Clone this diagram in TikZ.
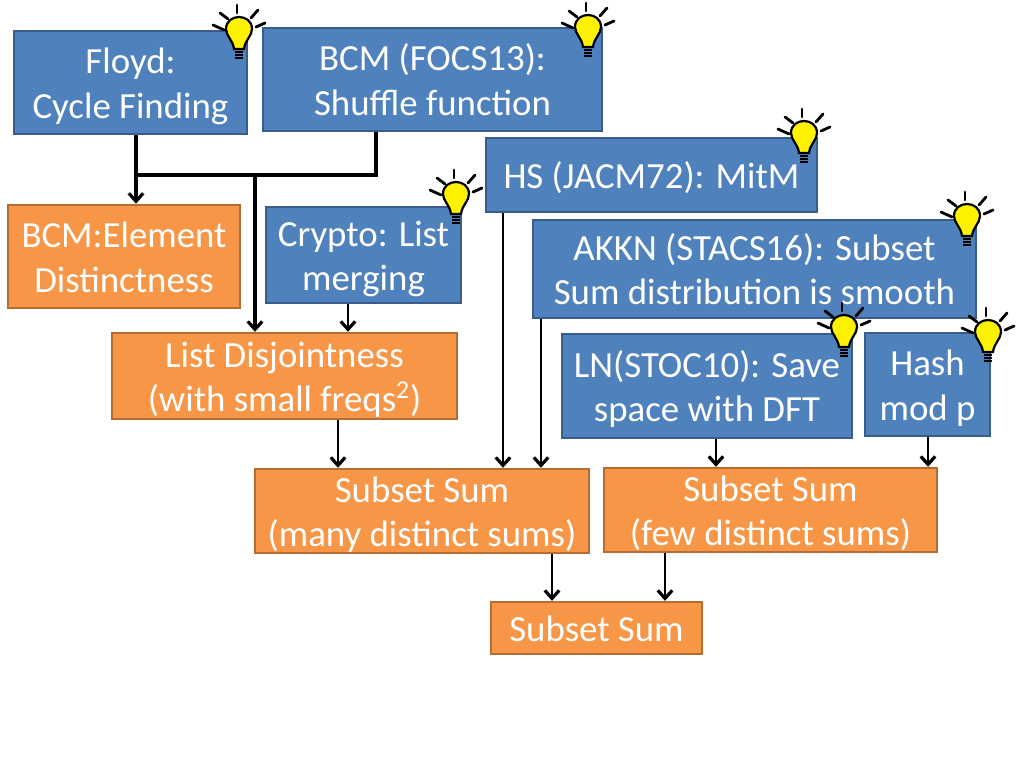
\documentclass[tikz,border=0pt]{standalone}
\usepackage{fontspec}
\setmainfont{Carlito}
\usetikzlibrary{arrows.meta}
\tikzset{
	bluebox/.style={
		draw = blueedge,
		fill = bluefill,
		line width = 0.06cm,
		text = white,
		align = center,
		inner sep = 0,
		text height = 53pt,
		text depth = 2.4pt
	},
	orangebox/.style={
		draw = orangeedge,
		fill = orangefill,
		line width = 0.06cm,
		text = white,
		align = center,
		inner sep = 0,
		text height = 53pt,
		text depth = 2.4pt
	},
	oneline/.style={
		text height = 26.5pt,
		text depth = 8pt
	},
	link/.style={
		line width = 0.07cm,
		-{Straight Barb[length=0.2cm,width=0.36cm,line width=0.08cm]}
	},
	bulb/.pic={
		\draw[line width=0.055cm, fill=yellow] (-5,19) .. controls (-6,10) and (-13,6) .. (-13,-1)
			.. controls (-13,-17) and (13,-17) .. (13,-1)
			.. controls (13,6) and (6,10) .. (5,19) -- cycle;
		\foreach \y in {22,25,28}
			\draw[line width=0.07cm] (-4,\y) -- (4,\y);
		\foreach \a/\b/\c/\d in {-2/-25/-2/-17, 19/-20/12/-12, 26/-7/17/-3, -19/-17/-11/-11, -26/-5/-15/0}
			\draw[line width=0.07cm, line cap=round] (\a,\b) -- (\c,\d);
	}
}
\definecolor{bluefill}{HTML}{4F81BD}
\definecolor{blueedge}{HTML}{385D8A}
\definecolor{orangefill}{HTML}{F79646}
\definecolor{orangeedge}{HTML}{B66D31}

\begin{document}
\begin{tikzpicture}[x=0.025cm, y=-0.025cm, font=\fontsize{26.2}{31.5}\selectfont]
    \useasboundingbox (0,0) rectangle (1024,768);
    % blue boxes
    \node[bluebox, minimum width=5.83cm, minimum height=2.58cm] (floyd) at (130.5,82.5) {Floyd:\\Cycle Finding};
    \node[bluebox, minimum width=8.48cm, minimum height=2.58cm] (bcm) at (432.5,79.5) {BCM (FOCS13):\\Shuffle function};
    \node[bluebox, oneline, minimum width=8.28cm, minimum height=1.85cm] (hs) at (651.5,175) {HS (JACM72): MitM};
    \node[bluebox, minimum width=4.88cm, minimum height=2.4cm] (crypto) at (363.5,255) {Crypto: List\\merging};
    \node[bluebox, minimum width=11.08cm, minimum height=2.45cm] (akkn) at (754.5,269) {AKKN (STACS16): Subset\\Sum distribution is smooth};
    \node[bluebox, minimum width=7.25cm, minimum height=2.6cm] (ln) at (707,386) {LN(STOC10): Save\\space with DFT};
    \node[bluebox, minimum width=3.13cm, minimum height=2.58cm] (hash) at (927.5,384.5) {Hash\\mod p};
    % orange boxes
    \node[orangebox, minimum width=5.8cm, minimum height=2.58cm] (element) at (124,256.5) {BCM:Element\\Distinctness};
    \node[orangebox, minimum width=8.63cm, minimum height=2.15cm] (listd) at (284.5,376) {List Disjointness\\(with small freqs\textsuperscript{2})};
    \node[orangebox, minimum width=8.35cm, minimum height=2.1cm] (many) at (422,511) {Subset Sum\\(many distinct sums)};
    \node[orangebox, minimum width=8.33cm, minimum height=2.1cm] (few) at (770.5,510) {Subset Sum\\(few distinct sums)};
    \node[orangebox, oneline, minimum width=5.28cm, minimum height=1.3cm] (subset) at (596.5,628) {Subset Sum};
    % connectors
    \coordinate (joinl) at (136,175);
    \coordinate (joinr) at (376,175);
    \coordinate (joinm) at (255,175);
    \draw[line width=0.09cm] (bcm.south -| joinr) -- (joinr) -- (joinl);
    \draw[line width=0.09cm] (floyd.south -| joinl) -- (joinl);
    \draw[link, line width=0.09cm] (joinl) -- (element.north -| joinl);
    \draw[link, line width=0.09cm] (joinm) -- (listd.north -| joinm);
    \foreach \src/\dst/\x in {crypto/listd/348, listd/many/338, hs/many/503, akkn/many/541, ln/few/716, hash/few/928, many/subset/552, few/subset/665}{
      \draw[link] (\x,0 |- \src.south) -- (\x,0 |- \dst.north);
    }
    % bulbs
    \foreach \x/\y in {239/30, 588/28, 804/134, 456/195, 967/217, 844/328, 988/333}{
      \pic at (\x,\y) {bulb};
    }
  \end{tikzpicture}
\end{document}
